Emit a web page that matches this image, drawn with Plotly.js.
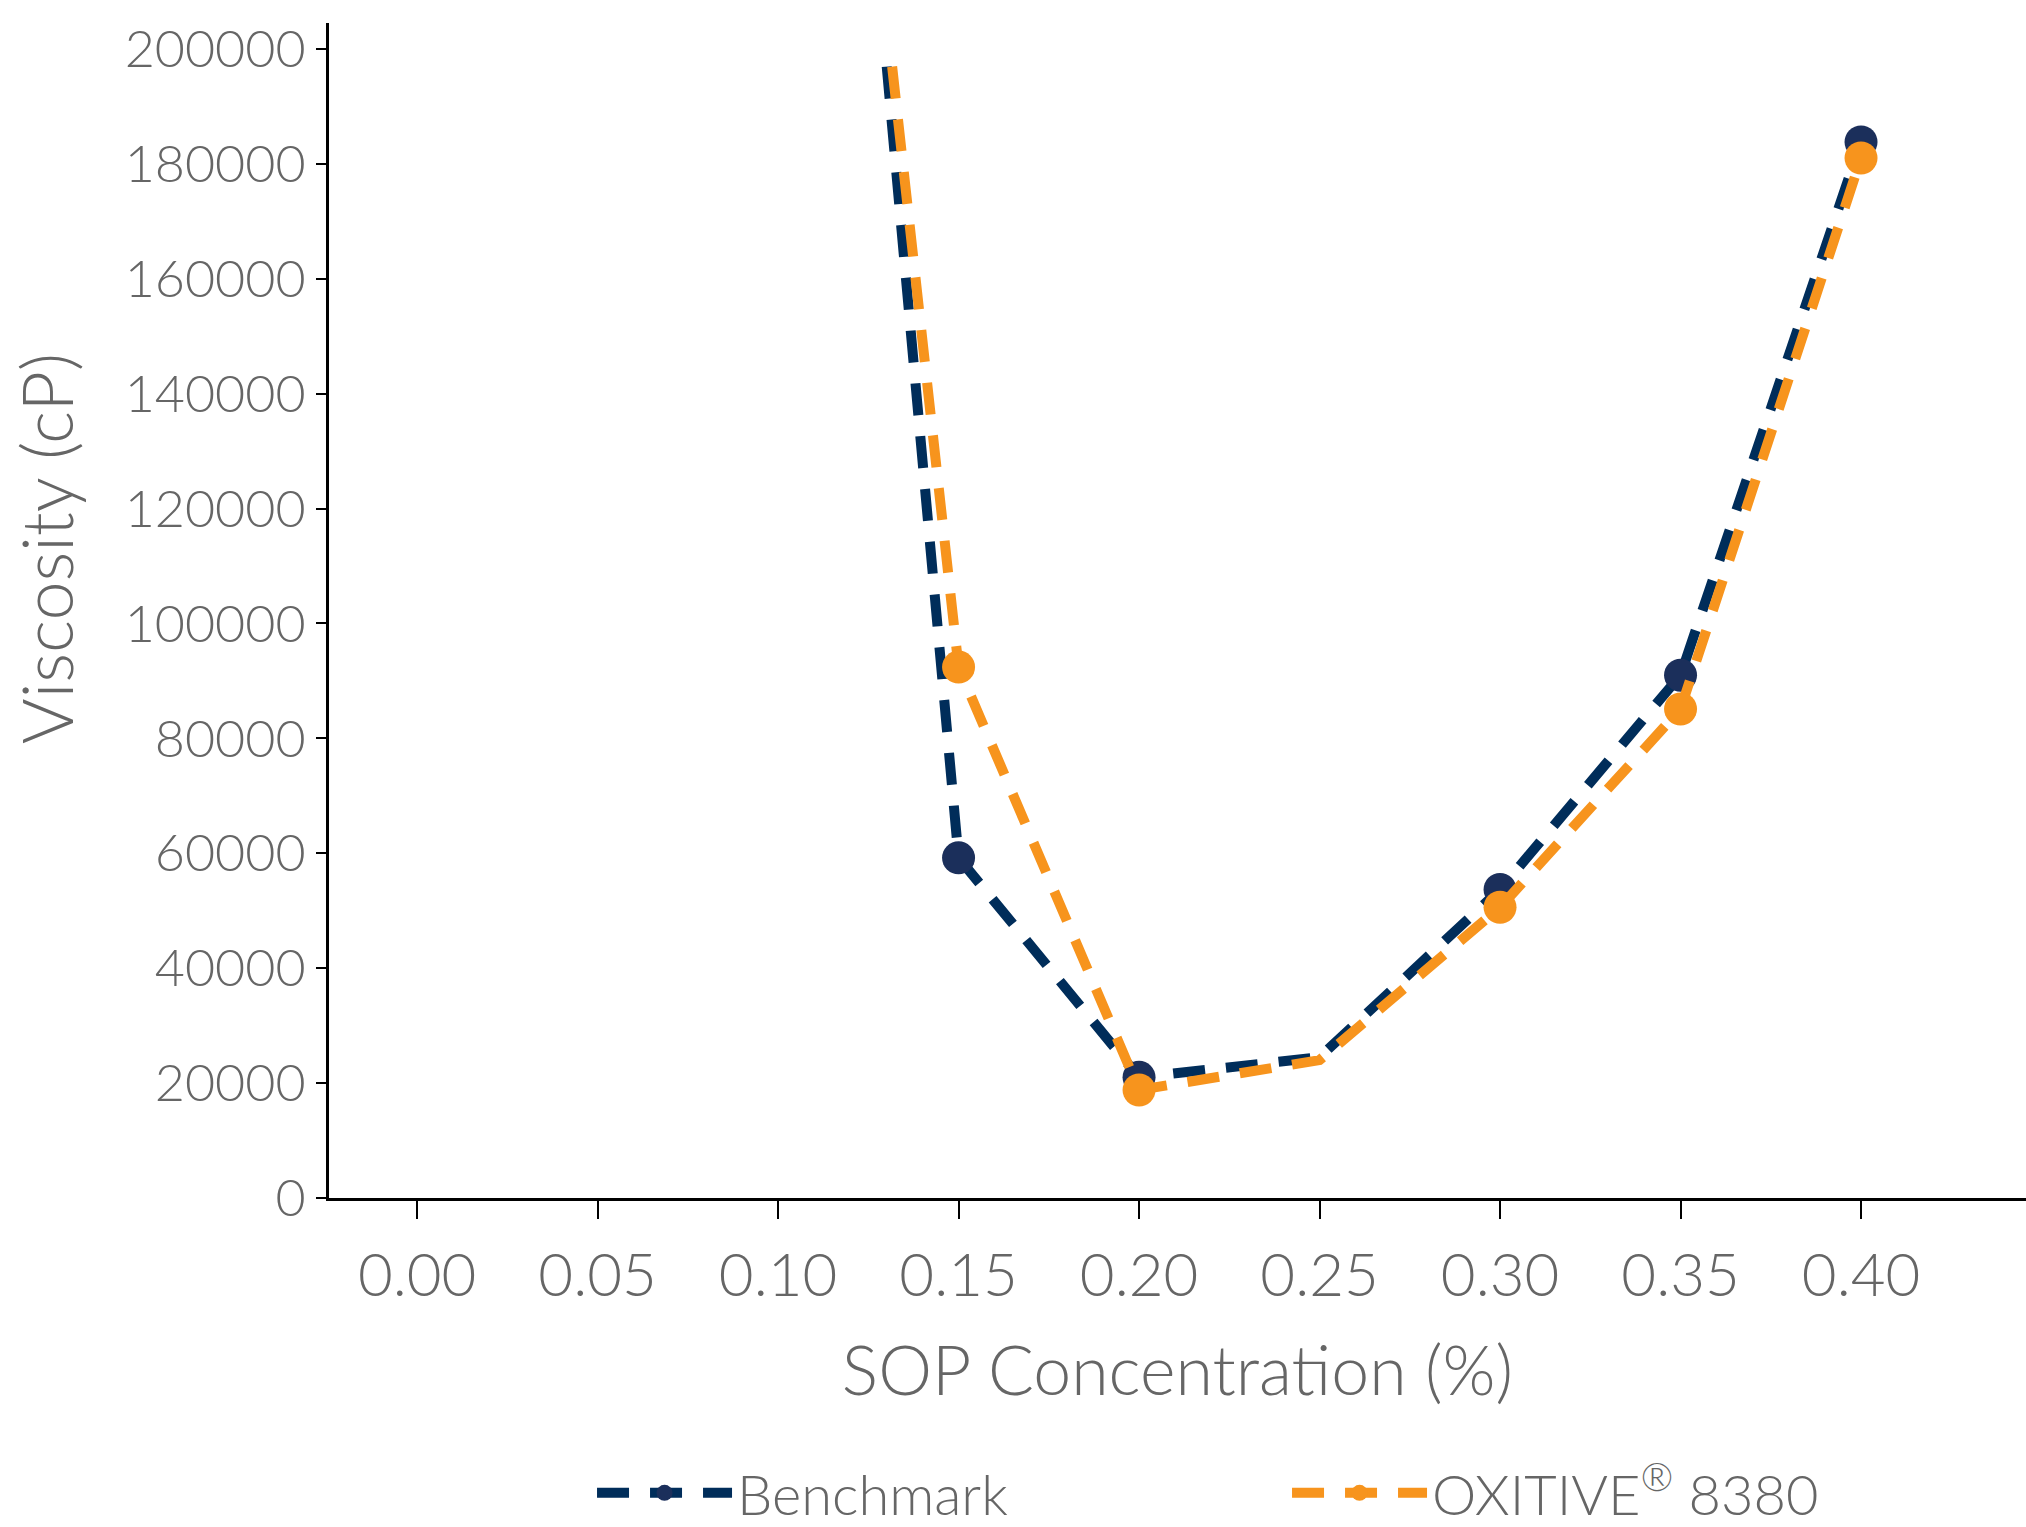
<!DOCTYPE html>
<html>
<head>
<meta charset="utf-8">
<script src="https://cdn.plot.ly/plotly-3.0.1.min.js"></script>
<style>
  html, body { margin: 0; padding: 0; background: #ffffff; }
  #chart { width: 2026px; height: 1527px; }
</style>
</head>
<body>
<div id="chart"></div>
<script>
// ---- Data ----
const seriesNames = ["Benchmark", "OXITIVE<sup>®</sup> 8380"];
// first entry = where each line enters the top of the plot (no marker); 0.25 has no marker either
const benchX = [0.1301, 0.15, 0.20, 0.25, 0.30, 0.35, 0.40];
const benchY = [196900, 59200, 21000, 24500, 53700, 91000, 183800];
const oxX    = [0.1316, 0.15, 0.20, 0.25, 0.30, 0.35, 0.40];
const oxY    = [196900, 92400, 18800, 24000, 50600, 85100, 181000];
const hasMarker = [false, true, true, false, true, true, true];

const xTickVals = [0.00, 0.05, 0.10, 0.15, 0.20, 0.25, 0.30, 0.35, 0.40];
const xTickText = ["0.00", "0.05", "0.10", "0.15", "0.20", "0.25", "0.30", "0.35", "0.40"];
const yTickVals = [0, 20000, 40000, 60000, 80000, 100000, 120000, 140000, 160000, 180000, 200000];
const yTickText = ["0", "20000", "40000", "60000", "80000", "100000", "120000", "140000", "160000", "180000", "200000"];

const xTitle = "SOP Concentration (%)";
const yTitle = "Viscosity (cP)";

// ---- Styling ----
const FONT = "Lato, 'Open Sans', sans-serif";
const TXT = "#666666";
const BLUE_LINE = "#002d5a";
const BLUE_MARK = "#1b2f5b";
const ORANGE = "#f7941d";
const MS = 33;

const sizes = hasMarker.map(h => h ? MS : 0);

const traces = [
  {
    x: benchX, y: benchY, name: seriesNames[0], type: "scatter", mode: "lines+markers",
    line: { color: BLUE_LINE, width: 10, dash: "32px,21px" },
    marker: { color: BLUE_MARK, size: sizes, opacity: 1, line: { width: 0 } },
    cliponaxis: true
  },
  {
    x: oxX, y: oxY, name: seriesNames[1], type: "scatter", mode: "lines+markers",
    line: { color: ORANGE, width: 10, dash: "32px,21px" },
    marker: { color: ORANGE, size: sizes, opacity: 1, line: { width: 0 } },
    cliponaxis: true
  }
];

const layout = {
  width: 2026, height: 1527,
  paper_bgcolor: "#ffffff", plot_bgcolor: "#ffffff",
  margin: { l: 329, r: 0, t: 23, b: 329, pad: 0 },
  font: { family: FONT, color: TXT, size: 52, weight: 300 },
  showlegend: true,
  legend: {
    orientation: "h", x: 0.155, xanchor: "left",
    yref: "container", y: 0.0223, yanchor: "middle",
    font: { family: FONT, color: TXT, size: 56, weight: 300 },
    itemsizing: "trace", itemwidth: 135, entrywidth: 545, traceorder: "normal"
  },
  annotations: [
    {
      text: yTitle, xref: "paper", yref: "paper", x: -0.1667, y: 0.5523,
      xanchor: "center", yanchor: "middle", textangle: -90, showarrow: false,
      font: { family: FONT, color: TXT, size: 70, weight: 300 }
    }
  ],
  xaxis: {
    range: [-0.0244, 0.4457],
    tickvals: xTickVals, ticktext: xTickText,
    ticks: "outside", ticklen: 18, tickwidth: 2, tickcolor: "#000000",
    showline: true, linecolor: "#000000", linewidth: 3,
    showgrid: false, zeroline: false,
    tickfont: { family: FONT, color: TXT, size: 60, weight: 300 },
    ticklabelstandoff: 5,
    title: { text: xTitle, font: { family: FONT, color: TXT, size: 68, weight: 300 }, standoff: 40 },
    automargin: false
  },
  yaxis: {
    range: [0, 204500],
    tickvals: yTickVals, ticktext: yTickText,
    ticks: "outside", ticklen: 10, tickwidth: 2, tickcolor: "#000000",
    showline: true, linecolor: "#000000", linewidth: 3,
    showgrid: false, zeroline: false,
    tickfont: { family: FONT, color: TXT, size: 52, weight: 300 },
    ticklabelstandoff: 0,
    automargin: false
  }
};

Plotly.newPlot("chart", traces, layout, { displayModeBar: false, staticPlot: true });
</script>
</body>
</html>
